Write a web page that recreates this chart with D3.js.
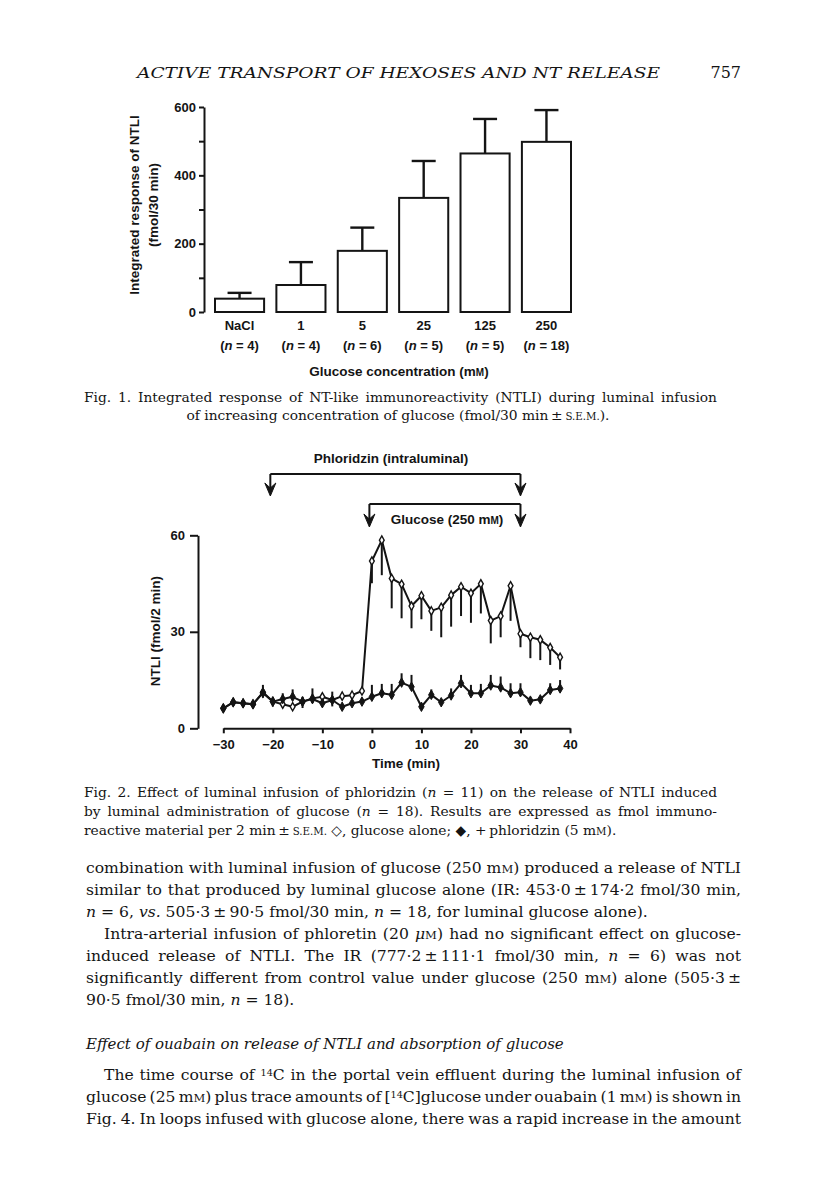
<!DOCTYPE html>
<html><head><meta charset="utf-8">
<script src="https://cdn.jsdelivr.net/npm/d3@7"></script>
<style>body{margin:0;background:#fff}svg{display:block}</style>
</head><body>
<svg id="page" width="816" height="1200"></svg>
<script>
// ---------- DATA ----------
const fig1Categories = ["NaCl", "1", "5", "25", "125", "250"];
const fig1N = [4, 4, 6, 5, 5, 18];
const fig1Mean = [39, 79, 179, 334, 464, 498];
const fig1Sem = [17, 67, 68, 108, 101, 93];
const fig1YTicks = [0, 100, 200, 300, 400, 500, 600];
const fig1YLabels = [0, 200, 400, 600];

const fig2Time = [-30, -28, -26, -24, -22, -20, -18, -16, -14, -12, -10, -8, -6, -4, -2, 0, 2, 4, 6, 8, 10, 12, 14, 16, 18, 20, 22, 24, 26, 28, 30, 32, 34, 36, 38];
const glucoseMean = [6.2, 8.1, 7.8, 7.5, 11.0, 8.3, 7.5, 6.7, 8.3, 9.3, 9.8, 8.8, 10.0, 10.3, 11.6, 52.0, 58.5, 46.6, 44.8, 38.0, 41.2, 36.5, 37.6, 41.4, 44.0, 42.0, 44.9, 33.5, 34.9, 44.3, 29.4, 28.3, 27.5, 25.1, 22.1];
const glucoseSem = [0.5, 0.5, 0.5, 0.5, 1.5, 1.5, 1.0, 1.0, 2.0, 1.5, 1.5, 2.0, 1.0, 1.0, 1.0, 6.9, 10.9, 9.3, 10.6, 6.9, 7.3, 6.2, 9.3, 9.8, 9.1, 9.2, 9.2, 7.1, 6.6, 10.9, 4.2, 6.5, 6.3, 5.4, 3.8];
const phloridzinMean = [6.2, 8.1, 7.8, 7.5, 11.2, 8.3, 9.1, 9.8, 8.3, 9.1, 7.8, 8.8, 6.7, 7.8, 8.3, 9.8, 10.9, 10.4, 14.2, 12.9, 6.7, 10.4, 8.1, 10.2, 14.0, 10.9, 10.9, 13.3, 12.7, 10.9, 11.2, 8.6, 9.0, 11.9, 12.4];
const phloridzinSem = [0.3, 0.5, 0.5, 0.5, 2.3, 1.5, 1.8, 2.3, 1.5, 3.3, 1.0, 2.6, 0.5, 1.0, 1.0, 3.7, 2.9, 3.4, 2.9, 3.7, 0.5, 1.7, 0.5, 2.2, 2.6, 2.6, 2.9, 3.3, 3.4, 3.1, 2.8, 0.5, 0.8, 2.1, 2.6];
const fig2XTicks = [-30, -20, -10, 0, 10, 20, 30, 40];
const fig2YTicks = [0, 30, 60];
const phloridzinPeriod = [-20, 30];
const glucosePeriod = [0, 30];

// ---------- SETUP ----------
const ink = "#141414";
const sans = "'Liberation Sans', Arial, sans-serif";
const serif = "'DejaVu Serif', serif";
const svg = d3.select("#page");

function addText(parent, o) {
  const t = parent.append("text").attr("x", o.x).attr("y", o.y)
    .attr("font-family", o.family || serif).attr("font-size", o.size).attr("fill", ink);
  if (o.italic) t.attr("font-style", "italic");
  if (o.weight) t.attr("font-weight", o.weight);
  if (o.anchor) t.attr("text-anchor", o.anchor);
  if (o.transform) t.attr("transform", o.transform);
  o.segs.forEach(s => {
    const [str, st] = Array.isArray(s) ? s : [s, ""];
    const ts = t.append("tspan").text(str);
    if (st === "i") ts.attr("font-style", "italic");
    if (st === "sc") ts.attr("font-size", o.size * 0.74);
    if (st === "sup") ts.attr("font-size", o.size * 0.62).attr("baseline-shift", "38%");
  });
  if (o.justifyTo) {
    const w = t.node().getComputedTextLength();
    const n = (t.text().match(/ /g) || []).length;
    if (n) t.attr("word-spacing", ((o.justifyTo - o.x) - w) / n);
  }
  return t;
}

// ---------- RUNNING HEAD ----------
svg.append("text").attr("x", 137).attr("y", 78).attr("font-family", serif)
  .attr("font-style", "italic").attr("font-size", 15.5).attr("fill", ink)
  .attr("textLength", 523).attr("lengthAdjust", "spacingAndGlyphs")
  .text("ACTIVE TRANSPORT OF HEXOSES AND NT RELEASE");
svg.append("text").attr("x", 741).attr("y", 78).attr("font-family", serif)
  .attr("font-size", 16).attr("text-anchor", "end").attr("fill", ink).text("757");

// ---------- FIGURE 1 ----------
const x1 = d3.scaleBand().domain(fig1Categories).range([215, 571]).paddingInner(0.2).paddingOuter(0);
const y1 = d3.scaleLinear().domain([0, 600]).range([312, 107]);
const g1 = svg.append("g");

const ax1 = g1.append("g").attr("transform", "translate(204,0)")
  .call(d3.axisLeft(y1).tickValues(fig1YTicks).tickSize(5).tickSizeOuter(0).tickPadding(3)
    .tickFormat(d => fig1YLabels.includes(d) ? String(d) : ""));
ax1.selectAll("path,line").attr("stroke", ink).attr("stroke-width", 2);
ax1.selectAll("text").attr("font-family", sans).attr("font-size", 13).attr("font-weight", "bold").attr("fill", ink);

const bars = g1.selectAll("g.bar").data(fig1Categories).join("g").attr("class", "bar");
bars.append("line")
  .attr("x1", (d) => x1(d) + x1.bandwidth() / 2).attr("x2", (d) => x1(d) + x1.bandwidth() / 2)
  .attr("y1", (d, i) => y1(fig1Mean[i])).attr("y2", (d, i) => y1(fig1Mean[i] + fig1Sem[i]))
  .attr("stroke", ink).attr("stroke-width", 2.4);
bars.append("line")
  .attr("x1", (d) => x1(d) + x1.bandwidth() / 2 - 12).attr("x2", (d) => x1(d) + x1.bandwidth() / 2 + 12)
  .attr("y1", (d, i) => y1(fig1Mean[i] + fig1Sem[i])).attr("y2", (d, i) => y1(fig1Mean[i] + fig1Sem[i]))
  .attr("stroke", ink).attr("stroke-width", 2.4);
bars.append("rect")
  .attr("x", d => x1(d)).attr("width", x1.bandwidth())
  .attr("y", (d, i) => y1(fig1Mean[i])).attr("height", (d, i) => y1(0) - y1(fig1Mean[i]))
  .attr("fill", "#fff").attr("stroke", ink).attr("stroke-width", 2);

fig1Categories.forEach((c, i) => {
  const cx = x1(c) + x1.bandwidth() / 2;
  addText(g1, { x: cx, y: 330, size: 13, family: sans, weight: "bold", anchor: "middle", segs: [c] });
  addText(g1, { x: cx, y: 350, size: 13, family: sans, weight: "bold", anchor: "middle",
    segs: ["(", ["n", "i"], " = " + fig1N[i] + ")"] });
});
addText(g1, { x: 399, y: 376, size: 13.5, family: sans, weight: "bold", anchor: "middle",
  segs: ["Glucose concentration (m", ["M", "sc"], ")"] });
addText(g1, { x: 0, y: 0, size: 13.5, family: sans, weight: "bold", anchor: "middle",
  transform: "translate(139,205) rotate(-90)", segs: ["Integrated response of NTLI"] });
addText(g1, { x: 0, y: 0, size: 13.5, family: sans, weight: "bold", anchor: "middle",
  transform: "translate(158,205) rotate(-90)", segs: ["(fmol/30 min)"] });

// caption 1
const C = 13.8;
addText(svg, { x: 84, y: 402, size: C, justifyTo: 717,
  segs: ["Fig. 1. Integrated response of NT-like immunoreactivity (NTLI) during luminal infusion"] });
addText(svg, { x: 398, y: 420, size: C, anchor: "middle",
  segs: ["of increasing concentration of glucose (fmol/30 min\u2009±\u2009", ["S.E.M.", "sc"], ")."] });

// ---------- FIGURE 2 ----------
const x2 = d3.scaleLinear().domain([-30, 40]).range([223.3, 570]);
const y2 = d3.scaleLinear().domain([0, 60]).range([728.3, 535.3]);
const g2 = svg.append("g");

const ax2y = g2.append("g").attr("transform", "translate(198,0)")
  .call(d3.axisLeft(y2).tickValues(fig2YTicks).tickSize(8).tickSizeOuter(0).tickPadding(5));
const ax2x = g2.append("g").attr("transform", `translate(0,${y2(0)})`)
  .call(d3.axisBottom(x2).tickValues(fig2XTicks).tickSize(5).tickSizeOuter(0).tickPadding(6));
[ax2y, ax2x].forEach(a => {
  a.selectAll("path,line").attr("stroke", ink).attr("stroke-width", 2);
  a.selectAll("text").attr("font-family", sans).attr("font-size", 13).attr("font-weight", "bold").attr("fill", ink);
});

const line2 = d3.line().x((d, i) => x2(fig2Time[i])).y(d => y2(d));

// glucose alone (open diamonds), error bars downward
g2.append("g").selectAll("line").data(glucoseMean).join("line")
  .attr("x1", (d, i) => x2(fig2Time[i])).attr("x2", (d, i) => x2(fig2Time[i]))
  .attr("y1", d => y2(d)).attr("y2", (d, i) => y2(d - glucoseSem[i]))
  .attr("stroke", ink).attr("stroke-width", 2);
g2.append("path").datum(glucoseMean).attr("d", line2)
  .attr("fill", "none").attr("stroke", ink).attr("stroke-width", 2).attr("stroke-linejoin", "round");

// phloridzin (filled diamonds), error bars upward
g2.append("g").selectAll("line").data(phloridzinMean).join("line")
  .attr("x1", (d, i) => x2(fig2Time[i])).attr("x2", (d, i) => x2(fig2Time[i]))
  .attr("y1", d => y2(d)).attr("y2", (d, i) => y2(d + phloridzinSem[i]))
  .attr("stroke", ink).attr("stroke-width", 2);
g2.append("path").datum(phloridzinMean).attr("d", line2)
  .attr("fill", "none").attr("stroke", ink).attr("stroke-width", 2).attr("stroke-linejoin", "round");

const diamondOpen = d3.symbol(d3.symbolDiamond, 20)();
const diamondFill = d3.symbol(d3.symbolDiamond, 26)();
g2.append("g").selectAll("path").data(glucoseMean).join("path")
  .attr("d", diamondOpen).attr("transform", (d, i) => `translate(${x2(fig2Time[i])},${y2(d)})`)
  .attr("fill", "#fff").attr("stroke", ink).attr("stroke-width", 1.4);
g2.append("g").selectAll("path").data(phloridzinMean).join("path")
  .attr("d", diamondFill).attr("transform", (d, i) => `translate(${x2(fig2Time[i])},${y2(d)})`)
  .attr("fill", ink).attr("stroke", ink).attr("stroke-width", 1);

addText(g2, { x: 0, y: 0, size: 13.5, family: sans, weight: "bold", anchor: "middle",
  transform: "translate(160,631) rotate(-90)", segs: ["NTLI (fmol/2 min)"] });
addText(g2, { x: 406, y: 768, size: 13.5, family: sans, weight: "bold", anchor: "middle",
  segs: ["Time (min)"] });

// brackets with arrows
function arrowDown(g, x, yTop, yTip) {
  g.append("line").attr("x1", x).attr("x2", x).attr("y1", yTop).attr("y2", yTip - 7)
    .attr("stroke", ink).attr("stroke-width", 2);
  g.append("path").attr("d", `M${x},${yTip} L${x - 5.5},${yTip - 13} L${x},${yTip - 8} L${x + 5.5},${yTip - 13} Z`)
    .attr("fill", ink).attr("stroke", ink).attr("stroke-width", 1).attr("stroke-linejoin", "round");
}
function bracket(g, t0, t1, yTop, yTip) {
  const xa = x2(t0) - 2.5, xb = x2(t1);
  g.append("line").attr("x1", xa).attr("x2", xb).attr("y1", yTop).attr("y2", yTop)
    .attr("stroke", ink).attr("stroke-width", 2);
  arrowDown(g, xa, yTop, yTip);
  arrowDown(g, xb, yTop, yTip);
}
bracket(g2, phloridzinPeriod[0], phloridzinPeriod[1], 474, 496);
bracket(g2, glucosePeriod[0], glucosePeriod[1], 504, 527);
addText(g2, { x: 391, y: 463, size: 13.5, family: sans, weight: "bold", anchor: "middle",
  segs: ["Phloridzin (intraluminal)"] });
addText(g2, { x: 447, y: 524, size: 13.5, family: sans, weight: "bold", anchor: "middle",
  segs: ["Glucose (250 m", ["M", "sc"], ")"] });

// caption 2
addText(svg, { x: 84, y: 797, size: C, justifyTo: 717,
  segs: ["Fig. 2. Effect of luminal infusion of phloridzin (", ["n", "i"], " = 11) on the release of NTLI induced"] });
addText(svg, { x: 84, y: 816, size: C, justifyTo: 717,
  segs: ["by luminal administration of glucose (", ["n", "i"], " = 18). Results are expressed as fmol immuno-"] });
addText(svg, { x: 84, y: 835, size: C,
  segs: ["reactive material per 2 min\u2009±\u2009", ["S.E.M.", "sc"], " \u25C7, glucose alone; \u25C6, +\u2009phloridzin (5 m", ["M", "sc"], ")."] });

// ---------- BODY TEXT ----------
const B = 15.6;
const body = [
  { x: 86, y: 873, j: true, segs: ["combination with luminal infusion of glucose (250 m", ["M", "sc"], ") produced a release of NTLI"] },
  { x: 86, y: 895, j: true, segs: ["similar to that produced by luminal glucose alone (IR: 453·0\u2009±\u2009174·2 fmol/30 min,"] },
  { x: 86, y: 917, j: false, segs: [["n", "i"], " = 6, ", ["vs.", "i"], " 505·3\u2009±\u200990·5 fmol/30 min, ", ["n", "i"], " = 18, for luminal glucose alone)."] },
  { x: 104, y: 939, j: true, segs: ["Intra-arterial infusion of phloretin (20 ", ["μ", "i"], ["M", "sc"], ") had no significant effect on glucose-"] },
  { x: 86, y: 961, j: true, segs: ["induced release of NTLI. The IR (777·2\u2009±\u2009111·1 fmol/30 min, ", ["n", "i"], " = 6) was not"] },
  { x: 86, y: 983, j: true, segs: ["significantly different from control value under glucose (250 m", ["M", "sc"], ") alone (505·3\u2009±"] },
  { x: 86, y: 1005, j: false, segs: ["90·5 fmol/30 min, ", ["n", "i"], " = 18)."] },
  { x: 86, y: 1049, j: false, italic: true, size: 15, segs: ["Effect of ouabain on release of NTLI and absorption of glucose"] },
  { x: 104, y: 1080, j: true, segs: ["The time course of ", ["14", "sup"], "C in the portal vein effluent during the luminal infusion of"] },
  { x: 86, y: 1102, j: true, segs: ["glucose (25 m", ["M", "sc"], ") plus trace amounts of [", ["14", "sup"], "C]glucose under ouabain (1 m", ["M", "sc"], ") is shown in"] },
  { x: 86, y: 1124, j: true, segs: ["Fig. 4. In loops infused with glucose alone, there was a rapid increase in the amount"] }
];
body.forEach(l => addText(svg, { x: l.x, y: l.y, size: l.size || B, italic: l.italic, justifyTo: l.j ? 741 : null, segs: l.segs }));
</script>
</body></html>
